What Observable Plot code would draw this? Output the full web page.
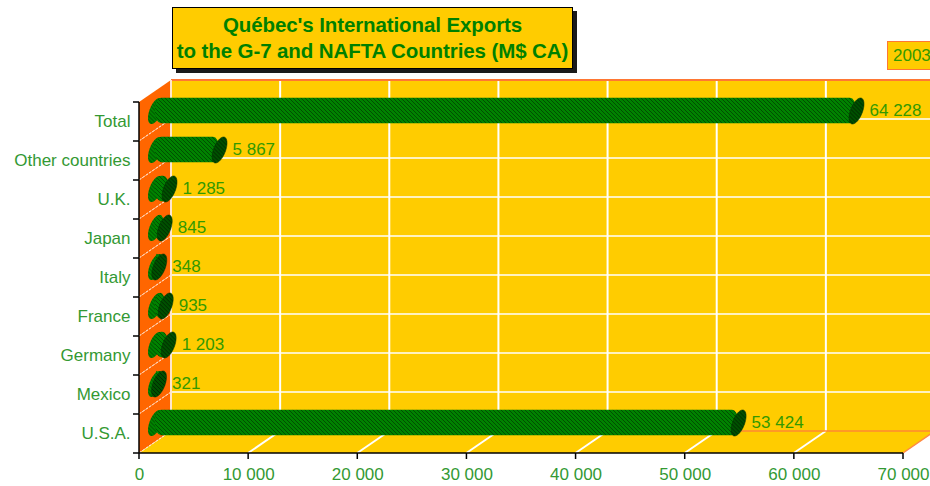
<!DOCTYPE html>
<html>
<head>
<meta charset="utf-8">
<script src="https://cdn.jsdelivr.net/npm/d3@7"></script>
<script src="https://cdn.jsdelivr.net/npm/@observablehq/plot@0.6"></script>
<style>
  body { margin: 0; background: #fff; font-family: "Liberation Sans", Arial, sans-serif; }
  #wrap { position: relative; width: 930px; height: 486px; overflow: hidden; }
  #head { position: relative; height: 76px; }
  #title {
    position: absolute; left: 172px; top: 7px; width: 399px;
    background: #FFCC00; border: 1px solid #000; box-shadow: 4px 4px 0 #1a1a1a;
    color: #008000; font-weight: bold; font-size: 20.5px; line-height: 26px;
    padding: 4px 0; text-align: center; white-space: nowrap; letter-spacing: -0.1px;
  }
  #legend {
    position: absolute; left: 887px; top: 41px; width: 60px; height: 27px;
    background: #FFCC00; border: 1.5px solid #FF7733;
    color: #339900; font-size: 17px; line-height: 28px; padding-left: 5px;
  }
  #chart svg { display: block; }
</style>
</head>
<body>
<div id="wrap">
  <div id="head">
    <div id="title">Québec's International Exports<br>to the G-7 and NAFTA Countries (M$ CA)</div>
    <div id="legend">2003</div>
  </div>
  <div id="chart"></div>
</div>
<script>
// ---- data ----
const categories = ["Total", "Other countries", "U.K.", "Japan", "Italy", "France", "Germany", "Mexico", "U.S.A."];
const values = [64228, 5867, 1285, 845, 348, 935, 1203, 321, 53424];
const xTicks = [0, 10000, 20000, 30000, 40000, 50000, 60000, 70000];

const data = categories.map((name, i) => ({name, value: values[i]}));

// ---- style constants ----
const YELLOW = "#FFCC00", ORANGE = "#FF6600";
const DX = 32, DY = -22;          // oblique depth of the 3D box (px)
const BDX = 16, BDY = -11;        // cylinders sit at mid-depth

const fr = d3.formatLocale({decimal: ",", thousands: " ", grouping: [3], currency: ["", ""]});
const fmt = fr.format(",d");

// tilted ellipse used as cylinder end caps
const ellipse = {
  draw(ctx) {
    const a = 7.5, b = 11, c = -7, n = 48;
    for (let k = 0; k <= n; k++) {
      const t = (k / n) * 2 * Math.PI;
      const px = a * Math.sin(t), py = -b * Math.cos(t) + c * Math.sin(t);
      k ? ctx.lineTo(px, py) : ctx.moveTo(px, py);
    }
    ctx.closePath();
  }
};

function addPattern(defs, id, base, dark) {
  const p = defs.append("pattern").attr("id", id).attr("patternUnits", "userSpaceOnUse")
    .attr("width", 4).attr("height", 4);
  p.append("rect").attr("width", 4).attr("height", 4).attr("fill", base);
  for (const [px, py] of [[0, 0], [2, 2], [1, 1], [3, 3]])
    p.append("rect").attr("x", px).attr("y", py).attr("width", 1).attr("height", 1).attr("fill", dark);
}

// 3D box (walls, floor, grid, axis lines) drawn through the plot's scales
function box3d(index, scales, vals, dim) {
  const x = scales.x, y = scales.y;
  const band = y(categories[1]) - y(categories[0]);
  const yTop = y(categories[0]);
  const yBot = y(categories[categories.length - 1]) + band;
  const x0 = x(xTicks[0]), x1 = x(xTicks[xTicks.length - 1]);
  const W = dim.width;
  const g = d3.create("svg:g");
  const defs = g.append("defs");
  addPattern(defs, "bodyPat", "#008200", "#004f00");
  addPattern(defs, "capPat", "#005000", "#002a00");
  const poly = (pts, fill) => g.append("polygon").attr("points", pts.map(p => p.join(",")).join(" ")).attr("fill", fill);
  const line = (xa, ya, xb, yb, stroke, w, dash) => {
    const l = g.append("line").attr("x1", xa).attr("y1", ya).attr("x2", xb).attr("y2", yb)
      .attr("stroke", stroke).attr("stroke-width", w);
    if (dash) l.attr("stroke-dasharray", dash);
  };
  // back wall
  g.append("rect").attr("x", x0 + DX).attr("y", yTop + DY).attr("width", W - x0 - DX).attr("height", yBot - yTop).attr("fill", YELLOW);
  // floor
  poly([[x0, yBot], [x1, yBot], [x1 + DX, yBot + DY], [x0 + DX, yBot + DY]], YELLOW);
  // left wall
  poly([[x0, yTop], [x0 + DX, yTop + DY], [x0 + DX, yBot + DY], [x0, yBot]], ORANGE);
  // back-wall grid
  for (const t of xTicks.slice(1)) line(x(t) + DX, yTop + DY, x(t) + DX, yBot + DY, "#fff", 2);
  for (const c of categories.slice(1)) line(x0 + DX, y(c) + DY, W, y(c) + DY, "#fff", 1.5);
  // floor grid
  for (const t of xTicks.slice(1, -1)) line(x(t), yBot, x(t) + DX, yBot + DY, "#fff", 2);
  // left-wall grid
  for (const c of categories.slice(1)) line(x0, y(c), x0 + DX, y(c) + DY, "#fff", 1, "3,1");
  line(x0, yBot, x0 + DX, yBot + DY, "#fff", 1, "3,1");
  // edges
  line(x0 + DX, yTop + DY, W, yTop + DY, "#FF7733", 2);
  line(x0 + DX, yBot + DY, x1 + DX, yBot + DY, "#FF8833", 1.5);
  line(x1, yBot, x1 + DX, yBot + DY, "#FF8844", 1.5);
  line(x0 + DX, yTop + DY, x0 + DX, yBot + DY, "#FFE6CC", 2);
  // axis lines and ticks
  line(x0, yTop, x0, yBot, "#000", 1.5);
  line(x0 - 6, yBot, x1, yBot, "#000", 1.5);
  for (const c of categories) line(x0 - 6, y(c), x0, y(c), "#000", 1.5);
  for (const t of xTicks) line(x(t), yBot, x(t), yBot + 6, "#000", 1.5);
  return g.node();
}

const plot = Plot.plot({
  width: 930,
  height: 410,
  marginLeft: 139,
  marginRight: 27,
  marginTop: 23,
  marginBottom: 31,
  style: {fontFamily: "'Liberation Sans', Arial, sans-serif", fontSize: "17px", color: "#339933", background: "transparent", overflow: "visible"},
  x: {domain: [0, 70000], ticks: xTicks, tickFormat: fmt, tickSize: 0, tickPadding: 12, label: null},
  y: {domain: categories, padding: 0, tickSize: 0, tickPadding: 9, label: null},
  marks: [
    Plot.frame({render: box3d}),
    Plot.dot(data, {x: () => 0, y: "name", symbol: ellipse, fill: "url(#bodyPat)", stroke: "none", dx: BDX, dy: BDY}),
    Plot.barX(data, {x: "value", y: "name", fill: "url(#bodyPat)", insetTop: 6.8, insetBottom: 6.8, rx: 6, ry: 11, dx: BDX, dy: BDY}),
    Plot.dot(data, {x: "value", y: "name", symbol: ellipse, fill: "url(#capPat)", stroke: "#003300", strokeWidth: 0.5, dx: BDX, dy: BDY}),
    Plot.text(data, {x: "value", y: "name", text: d => fmt(d.value), dx: BDX + 13, dy: BDY, textAnchor: "start", fill: "#339900", fontSize: 17})
  ]
});
document.getElementById("chart").append(plot);
</script>
</body>
</html>
